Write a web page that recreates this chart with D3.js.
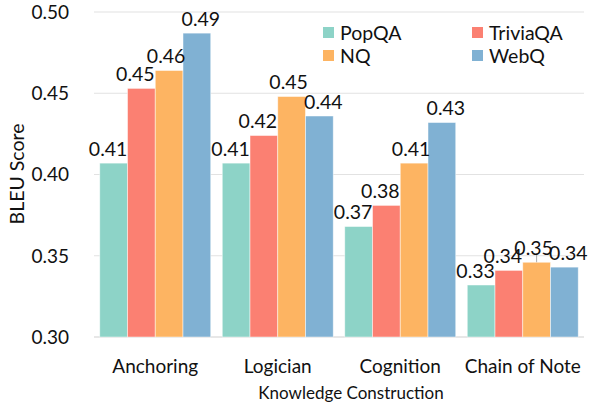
<!DOCTYPE html>
<html><head><meta charset="utf-8">
<script src="https://cdn.jsdelivr.net/npm/d3@7"></script>
<style>
html,body{margin:0;padding:0;background:#fff;}
svg text{font-family:Lato,"Open Sans",sans-serif;fill:#111;}
</style></head>
<body>
<svg id="chart" width="590" height="405"></svg>
<script>
const categories = ["Anchoring", "Logician", "Cognition", "Chain of Note"];
const seriesNames = ["PopQA", "TriviaQA", "NQ", "WebQ"];
const popqa    = [0.407, 0.407, 0.368, 0.332];
const triviaqa = [0.453, 0.424, 0.381, 0.341];
const nq       = [0.464, 0.448, 0.407, 0.346];
const webq     = [0.487, 0.436, 0.432, 0.343];
const labelsPop    = ["0.41", "0.41", "0.37", "0.33"];
const labelsTrivia = ["0.45", "0.42", "0.38", "0.34"];
const labelsNQ     = ["0.46", "0.45", "0.41", "0.35"];
const labelsWebQ   = ["0.49", "0.44", "0.43", "0.34"];
const nqErrorChain = [0, 0, 0, 0.0055];
const yTicks = [0.30, 0.35, 0.40, 0.45, 0.50];
const yTickLabels = ["0.30", "0.35", "0.40", "0.45", "0.50"];
const xTitle = "Knowledge Construction";
const yTitle = "BLEU Score";

const colors = ["#8dd3c7", "#fb8072", "#fdb462", "#80b1d3"];
const labelNudge = [-5.5, -6, -3, 4];

const values = [popqa, triviaqa, nq, webq];
const labels = [labelsPop, labelsTrivia, labelsNQ, labelsWebQ];
const errors = [[0,0,0,0],[0,0,0,0], nqErrorChain, [0,0,0,0]];

const svg = d3.select("#chart");
const x0 = d3.scaleBand().domain(categories).range([94, 584]).paddingInner(0.094).paddingOuter(0.047);
const x1 = d3.scaleBand().domain(seriesNames).range([0, x0.bandwidth()]);
const y = d3.scaleLinear().domain([0.30, 0.50]).range([337, 12]);

// gridlines
svg.append("g").selectAll("line").data(yTicks).join("line")
  .attr("x1", 94).attr("x2", 584)
  .attr("y1", d => y(d)).attr("y2", d => y(d))
  .attr("stroke", d => d === 0.30 ? "#d0d0d0" : "#e2e2e2").attr("stroke-width", 1.2);

// y tick labels
svg.append("g").selectAll("text").data(yTicks).join("text")
  .attr("x", 69).attr("y", d => y(d)).attr("dy", "0.36em")
  .attr("text-anchor", "end").attr("font-size", 19)
  .text((d, i) => yTickLabels[i]);

// error bars (behind)
seriesNames.forEach((s, si) => {
  svg.append("g").selectAll("line").data(categories).join("line")
    .filter((c, ci) => errors[si][ci] > 0)
    .attr("x1", c => x0(c) + x1(s) + x1.bandwidth() / 2)
    .attr("x2", c => x0(c) + x1(s) + x1.bandwidth() / 2)
    .attr("y1", c => y(values[si][categories.indexOf(c)] + errors[si][categories.indexOf(c)]))
    .attr("y2", c => y(values[si][categories.indexOf(c)] - errors[si][categories.indexOf(c)]))
    .attr("stroke", "#aaaaaa").attr("stroke-width", 1);
});

// bars
seriesNames.forEach((s, si) => {
  svg.append("g").selectAll("rect").data(categories).join("rect")
    .attr("x", c => x0(c) + x1(s))
    .attr("width", x1.bandwidth())
    .attr("y", (c, ci) => y(values[si][ci]))
    .attr("height", (c, ci) => y(0.30) - y(values[si][ci]))
    .attr("fill", colors[si])
    .attr("stroke", "#ffffff").attr("stroke-opacity", 0.6).attr("stroke-width", 0.8);
});

// value labels
seriesNames.forEach((s, si) => {
  svg.append("g").selectAll("text").data(categories).join("text")
    .attr("x", c => x0(c) + x1(s) + x1.bandwidth() / 2 + labelNudge[si])
    .attr("y", (c, ci) => y(values[si][ci]) - 7.5)
    .attr("text-anchor", "middle").attr("font-size", 19.5)
    .text((c, ci) => labels[si][ci]);
});

// category labels
svg.append("g").selectAll("text").data(categories).join("text")
  .attr("x", c => x0(c) + x0.bandwidth() / 2).attr("y", 373)
  .attr("text-anchor", "middle").attr("font-size", 19)
  .text(c => c);

// axis titles
svg.append("text").attr("x", 351).attr("y", 399).attr("text-anchor", "middle")
  .attr("font-size", 17).text(xTitle);
svg.append("text").attr("transform", "translate(24,174) rotate(-90)")
  .attr("text-anchor", "middle").attr("font-size", 19.5).text(yTitle);

// legend
const legendPos = [[323, 27], [472, 27], [323, 50], [472, 50]];
seriesNames.forEach((s, si) => {
  const g = svg.append("g").attr("transform", `translate(${legendPos[si][0]},${legendPos[si][1]})`);
  g.append("rect").attr("width", 11).attr("height", 11).attr("fill", colors[si]);
  g.append("text").attr("x", 17).attr("y", 5.5).attr("dy", "0.36em")
    .attr("font-size", 19.5).text(s);
});
</script>
</body></html>
